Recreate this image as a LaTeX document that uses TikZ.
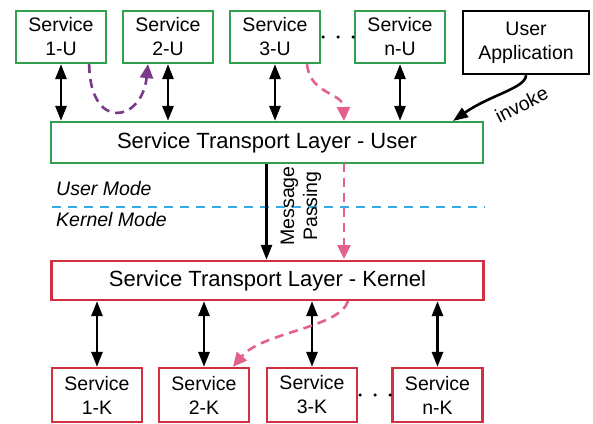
\documentclass[tikz,border=0pt]{standalone}
\usepackage{fontspec}
\setmainfont{Liberation Sans}
\usetikzlibrary{arrows.meta}

\definecolor{svcgreen}{RGB}{50,158,80}
\definecolor{krnred}{RGB}{210,48,64}
\definecolor{flowpink}{RGB}{226,98,138}
\definecolor{flowpurple}{RGB}{122,58,138}
\definecolor{modeblue}{RGB}{58,170,225}

\begin{document}
\begin{tikzpicture}[x=1pt,y=-1pt,
  box/.style={draw, line width=2.3pt, inner sep=0pt, align=center,
    font=\fontsize{19.5}{24}\selectfont},
  ubox/.style={box, draw=svcgreen, minimum width=90pt, minimum height=52pt},
  kbox/.style={box, draw=krnred, minimum width=90pt, minimum height=54pt},
  appbox/.style={box, draw=black, minimum width=126pt, minimum height=63pt},
  layer/.style={draw, line width=2.3pt, inner sep=0pt, minimum width=432pt,
    font=\fontsize{22}{26}\selectfont},
  link/.style={line width=2.8pt,
    {Triangle[length=15pt,width=11pt]}-{Triangle[length=15pt,width=11pt]}},
  oneway/.style={line width=2.6pt, -{Triangle[length=15pt,width=11pt]}},
  flow/.style={line width=2.6pt, dash pattern=on 9pt off 6pt,
    -{Triangle[length=14pt,width=13pt]}},
  dotrow/.style={line width=3.4pt, line cap=round,
    dash pattern=on 0pt off 15pt, dash phase=13pt},
  modelabel/.style={anchor=west, inner sep=0pt,
    font=\fontsize{19.5}{24}\selectfont\itshape},
  small/.style={font=\fontsize{19.5}{23}\selectfont}
]
\useasboundingbox (0,0) rectangle (593,423);

% user-space services
\node[ubox] (s1u) at (61,37)  {Service\\1-U};
\node[ubox] (s2u) at (168,37) {Service\\2-U};
\node[ubox] (s3u) at (275,37) {Service\\3-U};
\node[ubox] (snu) at (400,37) {Service\\n-U};
\node[appbox] (app) at (526,42.5) {User\\Application};

% transport layers
\node[layer, draw=svcgreen, minimum height=41pt] (stlu) at (267,142.5)
  {Service Transport Layer - User};
\node[layer, draw=krnred, minimum height=39pt] (stlk) at (267.5,280.5)
  {Service Transport Layer - Kernel};

% kernel-space services
\node[kbox] (s1k) at (97,395)    {Service\\1-K};
\node[kbox] (s2k) at (204,395)   {Service\\2-K};
\node[kbox] (s3k) at (312,395)   {Service\\3-K};
\node[kbox] (snk) at (437.5,395) {Service\\n-K};

% ellipsis between the last two services of each row
\draw[dotrow] (s3u.east) -- (snu.west);
\draw[dotrow] (s3k.east) -- (snk.west);

% service <-> transport links
\foreach \s in {s1u,s2u,s3u,snu}
  \draw[link] (\s.south) -- (\s.south |- stlu.north);
\foreach \s in {s1k,s2k,s3k,snk}
  \draw[link] (\s.north) -- (\s.north |- stlk.south);

% user / kernel boundary
\coordinate (bl) at (52,207);
\draw[modeblue, line width=2.3pt, dash pattern=on 9pt off 7pt]
  (bl) -- (bl -| stlu.east);
\node[modelabel] (um) at (56,189) {User Mode};
\node[modelabel] (km) at (56,220) {Kernel Mode};

% message passing between the layers
\draw[oneway] ([xshift=-0.5pt]stlu.south) -- ([xshift=-1pt]stlk.north);
\node[small, rotate=90, align=center] (mp) at (301,206) {Message\\Passing};

% invocation from the application
\coordinate (inv) at (453,121);
\draw[oneway] (app.south) .. controls (526,88) and (490,95) .. (inv);
\node[small, rotate=27, inner sep=1pt] (invl) at (521.5,104.5) {invoke};

% local call between user services
\draw[flow, flowpurple] ([xshift=-18pt]s1u.south east)
  .. controls (90,132) and (142,122) .. ([xshift=-20pt]s2u.south);

% request path from service 3-U down to service 2-K
\coordinate (p1) at (344,121);
\coordinate (p2) at (344,163);
\coordinate (p3) at (344,259);
\coordinate (p4) at (348,301);
\draw[flow, flowpink] ([xshift=32pt]s3u.south)
  .. controls (310,95) and (343,92) .. (p1);
\draw[flow, flowpink] (p2) -- (p3);
\draw[flow, flowpink] (p4)
  .. controls (340,328) and (262,332) .. ([xshift=29pt]s2k.north);
\end{tikzpicture}
\end{document}
